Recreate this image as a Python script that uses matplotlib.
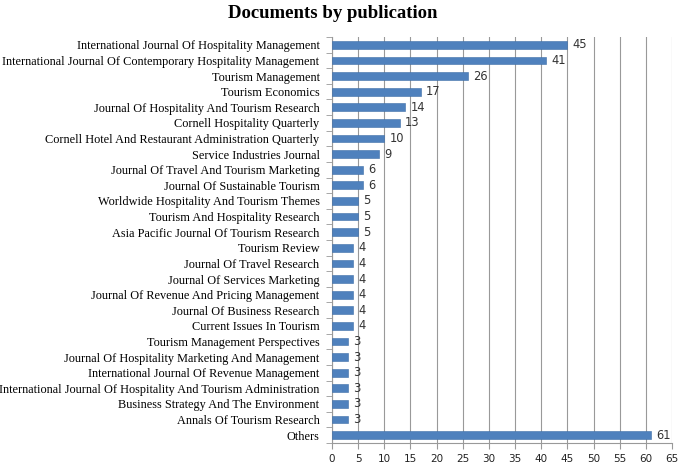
import numpy as np
import matplotlib
matplotlib.use('Agg')
import matplotlib.pyplot as plt

journals = [
    "International Journal Of Hospitality Management",
    "International Journal Of Contemporary Hospitality Management",
    "Tourism Management",
    "Tourism Economics",
    "Journal Of Hospitality And Tourism Research",
    "Cornell Hospitality Quarterly",
    "Cornell Hotel And Restaurant Administration Quarterly",
    "Service Industries Journal",
    "Journal Of Travel And Tourism Marketing",
    "Journal Of Sustainable Tourism",
    "Worldwide Hospitality And Tourism Themes",
    "Tourism And Hospitality Research",
    "Asia Pacific Journal Of Tourism Research",
    "Tourism Review",
    "Journal Of Travel Research",
    "Journal Of Services Marketing",
    "Journal Of Revenue And Pricing Management",
    "Journal Of Business Research",
    "Current Issues In Tourism",
    "Tourism Management Perspectives",
    "Journal Of Hospitality Marketing And Management",
    "International Journal Of Revenue Management",
    "International Journal Of Hospitality And Tourism Administration",
    "Business Strategy And The Environment",
    "Annals Of Tourism Research",
    "Others",
]
documents = [45, 41, 26, 17, 14, 13, 10, 9, 6, 6, 5, 5, 5,
             4, 4, 4, 4, 4, 4, 3, 3, 3, 3, 3, 3, 61]
xticks = list(range(0, 66, 5))

fig = plt.figure(figsize=(6.79, 4.69), dpi=100)
ax = fig.add_axes([332 / 679, 1 - 443 / 469, 340 / 679, 406 / 469])

y = np.arange(len(journals))
ax.barh(y, documents, height=0.5, color='#4F81BD', edgecolor='#3E6FA8',
        linewidth=0.4, zorder=3)

for yi, v in zip(y, documents):
    ax.text(v + 1.0, yi, str(v), va='center', ha='left', fontsize=8.3,
            family='DejaVu Sans', color='#333333', zorder=4)

ax.set_ylim(len(journals) - 0.5, -0.5)
ax.set_xlim(0, 65)
ax.set_xticks(xticks)
ax.set_xticklabels([str(t) for t in xticks], family='DejaVu Sans', fontsize=7.5,
                   color='#222222')
ax.set_yticks(y)
ax.set_yticklabels(journals, family='Liberation Serif', fontsize=8.8)
ax.set_yticks(np.arange(-0.5, len(journals), 1), minor=True)
ax.tick_params(axis='y', which='major', length=0, pad=9)
ax.tick_params(axis='y', which='minor', length=4, color='#999999', direction='out')
ax.tick_params(axis='x', length=4, color='#999999', pad=4)

ax.grid(axis='x', color='#999999', linewidth=0.8, zorder=0)
for s in ['top', 'right']:
    ax.spines[s].set_visible(False)
ax.spines['left'].set_color('#999999')
ax.spines['bottom'].set_color('#999999')

fig.text(333 / 679, 1 - 14 / 469, "Documents by publication", ha='center', va='center',
         fontsize=13.5, fontweight='bold', family='Liberation Serif')

plt.savefig('out.png', dpi=100)
